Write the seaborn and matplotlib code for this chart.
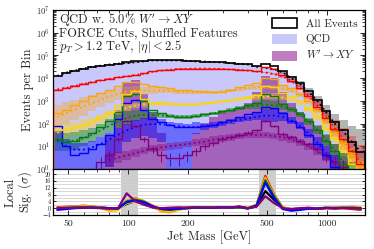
import numpy as np
import pandas as pd
import matplotlib
matplotlib.use("Agg")
import matplotlib.pyplot as plt
import matplotlib.ticker as mticker
from matplotlib.patches import Patch
import seaborn as sns

nan = np.nan

# ---------------- data (log10 of events per bin) ----------------
mass_lo, mass_hi, n_bins = 42.0, 1550.0, 36

levels = ["all", "red", "orange", "gold", "green", "blue", "purple"]
level_colors = ["black", "#ff0000", "#ffa500", "#ffd700", "#008000", "#0000ff", "#800080"]

qcd_all = [4.1, 4.24, 4.33, 4.42, 4.5, 4.55, 4.6, 4.64, 4.66, 4.7, 4.74, 4.78,
           4.78, 4.78, 4.78, 4.76, 4.74, 4.73, 4.71, 4.69, 4.66, 4.63, 4.6, 4.5,
           4.45, 4.4, 4.25, 4.0, 3.74, 3.4, 3.0, 2.5, 2.0, 1.65, 1.2, 0.75]
sig_all = [nan, nan, nan, nan, nan, nan, 1.5, 2.6, 3.8, 3.9, 3.3, 2.5,
           1.6, nan, nan, nan, 1.6, 2.0, 2.3, 2.5, 2.6, 2.75, 2.9, 3.4,
           4.1, 4.0, 3.4, 2.9, 2.5, 2.2, 1.9, 1.5, 1.1, 0.7, nan, nan]

tot_red = [3.5, 3.55, 3.65, 3.75, 3.83, 3.9, 3.97, 4.03, 4.1, 4.15, 4.22, 4.3,
           4.35, 4.38, 4.4, 4.42, 4.42, 4.42, 4.42, 4.4, 4.4, 4.38, 4.35, 4.3,
           4.5, 4.42, 4.15, 3.88, 3.57, 3.2, 2.75, 2.25, 1.75, 1.3, 0.8, 0.2]
tot_orange = [2.45, 2.6, 2.8, 3.0, 3.2, 3.35, 3.5, 3.65, 3.85, 3.85, 3.75, 3.65,
              3.6, 3.55, 3.5, 3.48, 3.45, 3.42, 3.4, 3.4, 3.5, 3.6, 3.7, 3.78,
              4.0, 3.95, 3.7, 3.55, 3.3, 3.0, 2.6, 2.15, 1.65, 1.15, 0.6, 0.1]
tot_gold = [1.7, 1.75, 1.85, 1.95, 2.1, 2.3, 2.5, 2.8, 3.3, 3.45, 3.1, 2.95,
            2.95, 2.9, 2.85, 2.85, 2.85, 2.9, 2.95, 3.0, 3.05, 3.1, 3.15, 3.25,
            3.65, 3.6, 3.35, 3.2, 3.0, 2.65, 2.3, 1.8, 1.35, 0.85, 0.2, nan]
tot_green = [1.3, 1.2, 1.25, 1.4, 1.6, 1.85, 2.1, 2.5, 3.2, 3.3, 3.0, 2.6,
             2.45, 2.35, 2.3, 2.3, 2.35, 2.4, 2.45, 2.55, 2.6, 2.7, 2.8, 2.9,
             3.3, 3.2, 2.85, 2.65, 2.4, 2.1, 1.7, 1.25, 0.8, 0.2, nan, nan]
tot_blue = [1.9, 1.0, 0.6, 0.7, 0.9, 1.1, 1.5, 2.2, 2.9, 3.05, 2.6, 2.2,
            2.05, 1.95, 1.85, 1.85, 1.85, 1.9, 1.95, 2.05, 2.15, 2.3, 2.4, 2.5,
            2.75, 2.7, 2.45, 2.1, 1.85, 1.5, 1.1, 0.6, 0.1, nan, nan, nan]
tot_purple = [nan, nan, nan, nan, nan, 0.3, 0.6, 1.3, 2.1, 1.9, 1.3, 0.9,
              0.6, 0.5, 0.5, 0.6, 0.8, 1.0, 1.15, 1.3, 1.4, 1.5, 1.6, 1.7,
              2.1, 1.9, 1.55, 1.4, 1.25, 1.1, 0.9, 0.6, 0.3, 0.1, nan, nan]

fit_red = [3.5, 3.57, 3.65, 3.74, 3.82, 3.9, 3.97, 4.03, 4.08, 4.13, 4.2, 4.28,
           4.33, 4.37, 4.4, 4.41, 4.42, 4.42, 4.41, 4.4, 4.38, 4.36, 4.33, 4.29,
           4.25, 4.18, 4.08, 3.88, 3.57, 3.2, 2.78, 2.28, 1.78, 1.3, 0.8, 0.25]
fit_orange = [2.3, 2.45, 2.6, 2.75, 2.9, 3.05, 3.2, 3.3, 3.4, 3.45, 3.45, 3.45,
              3.45, 3.43, 3.4, 3.38, 3.37, 3.37, 3.38, 3.4, 3.45, 3.5, 3.55, 3.6,
              3.62, 3.6, 3.55, 3.45, 3.28, 3.0, 2.62, 2.18, 1.68, 1.18, 0.65, 0.15]
fit_gold = [1.6, 1.68, 1.78, 1.9, 2.05, 2.2, 2.4, 2.55, 2.7, 2.8, 2.85, 2.86,
            2.86, 2.85, 2.84, 2.84, 2.85, 2.88, 2.92, 2.97, 3.02, 3.07, 3.12, 3.17,
            3.2, 3.2, 3.15, 3.05, 2.9, 2.65, 2.3, 1.85, 1.38, 0.88, 0.3, -0.2]
fit_green = [1.2, 1.2, 1.25, 1.35, 1.5, 1.7, 1.9, 2.1, 2.25, 2.35, 2.38, 2.38,
             2.36, 2.33, 2.3, 2.3, 2.33, 2.38, 2.44, 2.52, 2.6, 2.68, 2.75, 2.8,
             2.82, 2.8, 2.75, 2.62, 2.4, 2.1, 1.72, 1.28, 0.82, 0.3, -0.2, nan]
fit_blue = [1.3, 1.0, 0.85, 0.85, 0.95, 1.1, 1.3, 1.5, 1.7, 1.85, 1.95, 1.98,
            1.97, 1.93, 1.88, 1.85, 1.85, 1.88, 1.93, 2.0, 2.08, 2.15, 2.22, 2.3,
            2.35, 2.35, 2.3, 2.15, 1.9, 1.55, 1.15, 0.7, 0.2, nan, nan, nan]
fit_purple = [nan, nan, nan, nan, nan, nan, 0.4, 0.5, 0.6, 0.7, 0.8, 0.9,
              0.95, 1.0, 1.05, 1.1, 1.15, 1.2, 1.3, 1.35, 1.4, 1.45, 1.5, 1.5,
              1.5, 1.45, 1.4, 1.3, 1.15, 1.0, 0.8, 0.55, 0.3, 0.05, nan, nan]

# upper half width (log10) of the fit uncertainty band
band_all = [0.02, 0.02, 0.02, 0.02, 0.02, 0.02, 0.02, 0.02, 0.02, 0.02, 0.02, 0.02,
            0.02, 0.02, 0.02, 0.02, 0.02, 0.02, 0.02, 0.02, 0.02, 0.02, 0.02, 0.02,
            0.02, 0.03, 0.05, 0.08, 0.12, 0.16, 0.22, 0.3, 0.4, 0.5, 0.7, 1.0]
band_red = [0.03, 0.03, 0.03, 0.03, 0.03, 0.03, 0.03, 0.03, 0.03, 0.03, 0.03, 0.03,
            0.03, 0.03, 0.03, 0.03, 0.03, 0.03, 0.03, 0.03, 0.03, 0.03, 0.03, 0.03,
            0.04, 0.05, 0.06, 0.08, 0.1, 0.14, 0.2, 0.28, 0.38, 0.5, 0.65, 0.8]
band_orange = [0.5, 0.5, 0.45, 0.4, 0.35, 0.3, 0.28, 0.25, 0.22, 0.2, 0.18, 0.15,
               0.12, 0.1, 0.08, 0.07, 0.06, 0.06, 0.06, 0.06, 0.07, 0.08, 0.08, 0.1,
               0.1, 0.1, 0.1, 0.1, 0.1, 0.12, 0.14, 0.16, 0.2, 0.25, 0.3, 0.35]
band_gold = [0.35, 0.35, 0.3, 0.3, 0.25, 0.22, 0.2, 0.18, 0.15, 0.12, 0.1, 0.08,
             0.07, 0.06, 0.06, 0.06, 0.06, 0.06, 0.06, 0.06, 0.07, 0.08, 0.1, 0.12,
             0.14, 0.14, 0.12, 0.1, 0.1, 0.12, 0.15, 0.2, 0.25, 0.3, 0.4, 0.5]
band_green = [0.4, 0.4, 0.4, 0.35, 0.3, 0.3, 0.3, 0.3, 0.3, 0.25, 0.2, 0.15,
              0.12, 0.1, 0.08, 0.08, 0.08, 0.08, 0.08, 0.08, 0.1, 0.1, 0.12, 0.15,
              0.2, 0.2, 0.15, 0.12, 0.12, 0.15, 0.2, 0.25, 0.3, 0.4, 0.5, 0.5]
band_blue = [0.4, 0.3, 0.3, 0.3, 0.3, 0.3, 0.3, 0.3, 0.3, 0.3, 0.3, 0.3,
             0.25, 0.15, 0.15, 0.15, 0.2, 0.15, 0.12, 0.1, 0.1, 0.1, 0.12, 0.15,
             0.3, 0.3, 0.2, 0.15, 0.15, 0.2, 0.25, 0.3, 0.4, 0.5, 0.5, 0.5]
band_purple = [0.3, 0.3, 0.3, 0.3, 0.3, 0.3, 0.3, 0.25, 0.2, 0.18, 0.15, 0.15,
               0.15, 0.15, 0.15, 0.15, 0.15, 0.15, 0.15, 0.15, 0.15, 0.15, 0.15, 0.15,
               0.15, 0.15, 0.15, 0.15, 0.15, 0.15, 0.18, 0.2, 0.25, 0.3, 0.3, 0.3]
# lower half width of the blue band (reaches the floor where the fit is unconstrained)
band_blue_dn = [2.0, 2.0, 2.0, 2.0, 2.0, 1.5, 1.2, 0.8, 0.5, 0.5, 0.5, 0.6,
                0.8, 3.0, 3.0, 3.0, 0.3, 0.15, 0.12, 0.1, 0.1, 0.1, 0.12, 0.15,
                0.3, 0.3, 0.2, 0.15, 0.15, 0.2, 0.25, 0.3, 0.4, 0.5, 0.5, 0.5]

# local significance (sigma) per bin
lsig_all = [0.3, 0.5, 0.5, 0.6, 0.5, 0.3, 0.0, -0.3, 2.5, 4.2, 2.5, 0.5, -1.0, -0.5, 0.0, 0.2, 0.3, 0.3,
            0.4, 0.3, 0.5, 0.3, 0.0, 1.0, 10.0, 5.0, 0.0, -0.5, -0.3, 0.0, -0.2, 0.2, 0.0, 0.3, 0.0, -0.3]
lsig_red = [0.5, 0.8, 1.0, 1.5, 1.0, 0.5, 0.0, -0.5, 4.0, 5.8, 4.0, 1.5, -1.5, -2.0, -0.5, 0.3, 0.5, 0.5,
            0.5, 0.4, 0.6, 0.8, 0.0, 2.0, 19.0, 8.0, 0.5, -0.8, -0.5, -0.2, -0.5, 0.0, -0.3, 0.0, -0.5, -1.0]
lsig_orange = [0.2, 0.5, 0.8, 1.0, 0.8, 0.0, -1.5, -1.2, 4.5, 5.8, 4.2, 1.0, -2.0, -2.5, -1.0, 0.0, 0.3, 0.4,
               0.5, 0.5, 0.5, 0.8, 0.2, 2.0, 18.0, 7.5, 0.5, -0.8, -0.6, -0.3, 0.0, 0.2, 0.0, 0.5, 1.0, 0.5]
lsig_gold = [0.0, 0.3, 0.8, 1.0, 0.8, 0.3, -0.5, -1.0, 3.0, 4.0, 3.5, 1.0, -1.0, -1.5, -0.5, 0.0, 0.3, 0.3,
             0.5, 0.5, 0.4, 0.6, 0.0, 1.8, 17.0, 7.0, 0.3, -0.6, -0.4, 0.0, 0.0, 0.3, 0.2, 0.8, 0.5, 0.3]
lsig_green = [-0.3, 0.2, 0.5, 0.6, 0.5, 0.2, -0.2, -0.3, 4.0, 5.0, 3.8, 1.0, -0.5, -1.0, -0.3, 0.0, 0.4, 0.4,
              0.3, 0.5, 0.3, 0.6, 0.0, 1.8, 16.5, 7.0, 0.0, -1.0, -0.5, -0.2, -0.3, 0.2, 0.0, 0.3, 0.0, -0.5]
lsig_blue = [-1.0, -0.5, 0.0, 0.2, 0.3, 0.2, 0.0, -0.2, 3.5, 4.5, 3.5, 1.0, -0.5, -0.8, -0.3, 0.0, 0.3, 0.2,
             0.3, 0.5, 0.4, 0.8, -0.2, 1.5, 15.0, 6.0, -0.5, -1.5, -1.0, -0.3, -0.2, 0.2, 0.0, 0.2, 0.3, 0.0]
lsig_purple = [0.0, 0.2, 0.3, 0.3, 0.2, 0.0, -0.2, 0.0, 8.7, 4.0, 2.0, 0.5, 0.0, 0.3, 0.5, 0.3, 0.5, 0.3,
               0.3, 0.5, 0.3, 1.0, 0.0, 1.0, 7.0, 3.0, 0.0, -0.5, 0.0, 0.3, -0.3, 0.0, 0.3, 0.0, 0.0, 0.0]

signal_windows = [(92, 112), (455, 555)]
sig_gridlines = [-2, 0, 2, 4, 6, 8, 10, 12, 14, 16, 18, 20]
sig_ticks = [-4, 0, 4, 8, 12, 16, 20]

# ---------------- style ----------------
sns.set_theme(style="ticks")
plt.rcParams.update({
    "font.family": ["cmr10", "DejaVu Serif"],
    "mathtext.fontset": "cm",
    "axes.formatter.use_mathtext": True,
    "axes.unicode_minus": True,
    "axes.linewidth": 0.9,
    "xtick.direction": "in", "ytick.direction": "in",
    "xtick.top": True, "ytick.right": True,
    "xtick.major.size": 3.5, "ytick.major.size": 3.5,
    "xtick.minor.size": 2, "ytick.minor.size": 2,
    "xtick.major.width": 0.7, "ytick.major.width": 0.7,
    "xtick.minor.width": 0.6, "ytick.minor.width": 0.6,
    "xtick.labelsize": 7, "ytick.labelsize": 6.5,
    "axes.edgecolor": "black",
})

edges = np.geomspace(mass_lo, mass_hi, n_bins + 1)
centers = np.sqrt(edges[:-1] * edges[1:])


def lin(a, floor=1e-3):
    v = np.power(10.0, np.asarray(a, dtype=float))
    return np.where(np.isnan(v), floor, v)


fig = plt.figure(figsize=(3.74, 2.49), dpi=100)
ax = fig.add_axes([53 / 374, 1 - 169 / 249, 312 / 374, 159 / 249])
ax2 = fig.add_axes([53 / 374, 1 - 215 / 249, 312 / 374, 46 / 249], sharex=ax)

# ---- main panel ----
qcd = lin(qcd_all)
sig = lin(sig_all, floor=0.0)
tot_all = qcd + sig
ax.stairs(qcd, edges, baseline=1e-3, fill=True, color="#c8c8fa", lw=0, zorder=1)
ax.stairs(np.where(sig > 0, sig, 1e-3), edges, baseline=1e-3, fill=True,
          color="#800080", alpha=0.5, lw=0, zorder=2)

tots = [np.log10(tot_all), tot_red, tot_orange, tot_gold, tot_green, tot_blue, tot_purple]
fits = [qcd_all, fit_red, fit_orange, fit_gold, fit_green, fit_blue, fit_purple]
bands_up = [band_all, band_red, band_orange, band_gold, band_green, band_blue, band_purple]
bands_dn = [band_all, band_red, band_orange, band_gold, band_green, band_blue_dn, band_purple]
band_alpha = [0.45, 0.3, 0.35, 0.38, 0.4, 0.45, 0.35]

for i, (name, col) in enumerate(zip(levels, level_colors)):
    f = np.asarray(fits[i], dtype=float)
    up = lin(f + np.asarray(bands_up[i], dtype=float))
    lo = lin(f - np.asarray(bands_dn[i], dtype=float))
    bcol = "0.35" if name == "all" else col
    ax.stairs(up, edges, baseline=lo, fill=True, color=bcol, alpha=band_alpha[i], lw=0, zorder=3)

for i, (name, col) in enumerate(zip(levels, level_colors)):
    f = np.asarray(fits[i], dtype=float)
    ax.plot(centers, np.power(10.0, f), ls=":", color=col, lw=1.3, zorder=4)

for i in range(len(levels) - 1, -1, -1):
    t = lin(tots[i])
    ax.stairs(t, edges, color=level_colors[i], lw=1.0 if i else 1.2, zorder=5 + (len(levels) - i) * 0.01)
    if levels[i] == "purple":
        tp = np.power(10.0, np.asarray(tot_purple, dtype=float))
        ax.errorbar(centers, tp, yerr=np.sqrt(tp), fmt="none", ecolor=level_colors[i], lw=0.7, zorder=5)

ax.set_xscale("log")
ax.set_yscale("log")
ax.set_xlim(mass_lo, mass_hi)
ax.set_ylim(1, 1e7)
ax.yaxis.set_major_locator(mticker.LogLocator(base=10, numticks=10))
ax.yaxis.set_minor_locator(mticker.LogLocator(base=10, subs=np.arange(2, 10), numticks=20))
ax.yaxis.set_minor_formatter(mticker.NullFormatter())
ax.tick_params(axis="y", which="major", labelsize=6.2, pad=2)
ax.set_ylabel("Events per Bin", fontsize=9, labelpad=2)
ax.tick_params(axis="x", which="both", labelbottom=False)

ax.text(0.02, 0.915, r"QCD w. 5.0% $W'\to XY$", transform=ax.transAxes, fontsize=9, va="baseline", zorder=10)
ax.text(0.02, 0.83, "FORCE Cuts, Shuffled Features", transform=ax.transAxes, fontsize=9, va="baseline", zorder=10)
ax.text(0.02, 0.752, r"$p_T > 1.2$ TeV, $|\eta| < 2.5$", transform=ax.transAxes, fontsize=9, va="baseline", zorder=10)

handles = [Patch(facecolor="none", edgecolor="black", lw=1.2),
           Patch(facecolor="#c8c8fa", edgecolor="none"),
           Patch(facecolor="#800080", alpha=0.5, edgecolor="none")]
leg = ax.legend(handles, ["All Events", "QCD", r"$W'\to XY$"], loc="upper right",
                frameon=False, fontsize=8, handlelength=2.2, handleheight=1.0,
                borderaxespad=0.3, labelspacing=0.45, handletextpad=0.8)
leg.set_zorder(10)

# ---- significance panel ----
for lo_m, hi_m in signal_windows:
    ax2.axvspan(lo_m, hi_m, color="0.8", lw=0, zorder=0)
for y in sig_gridlines:
    ax2.axhline(y, color="0.82", lw=0.6, zorder=0.5)

lsig = [lsig_all, lsig_red, lsig_orange, lsig_gold, lsig_green, lsig_blue, lsig_purple]
df = pd.DataFrame({
    "mass": np.tile(centers, len(levels)),
    "sig": np.concatenate([np.asarray(s, dtype=float) for s in lsig]),
    "level": np.repeat(levels, n_bins),
})
sns.lineplot(data=df, x="mass", y="sig", hue="level", hue_order=levels,
             palette=dict(zip(levels, level_colors)), lw=1.6, legend=False, ax=ax2, zorder=2)

ax2.set_xscale("log")
ax2.set_xlim(mass_lo, mass_hi)
ax2.set_ylim(-4, 23)
ax2.set_yticks(sig_ticks)
ax2.set_yticklabels([str(v).replace("-", "\u2212") for v in sig_ticks])
ax2.set_xticks([50, 100, 200, 500, 1000])
ax2.xaxis.set_major_formatter(mticker.FuncFormatter(lambda v, p: f"{int(v)}"))
ax2.xaxis.set_minor_formatter(mticker.NullFormatter())
ax2.tick_params(axis="y", which="major", labelsize=4.5, pad=1.5, length=2.5)
ax2.tick_params(axis="y", which="minor", left=False, right=False)
ax2.tick_params(axis="x", labelsize=7, pad=3)
ax2.set_xlabel("Jet Mass [GeV]", fontsize=9, labelpad=2)
ax2.set_ylabel("Local\nSig. $(\\sigma)$", fontsize=9, labelpad=6, linespacing=1.0)

fig.savefig("out.png", dpi=100)
